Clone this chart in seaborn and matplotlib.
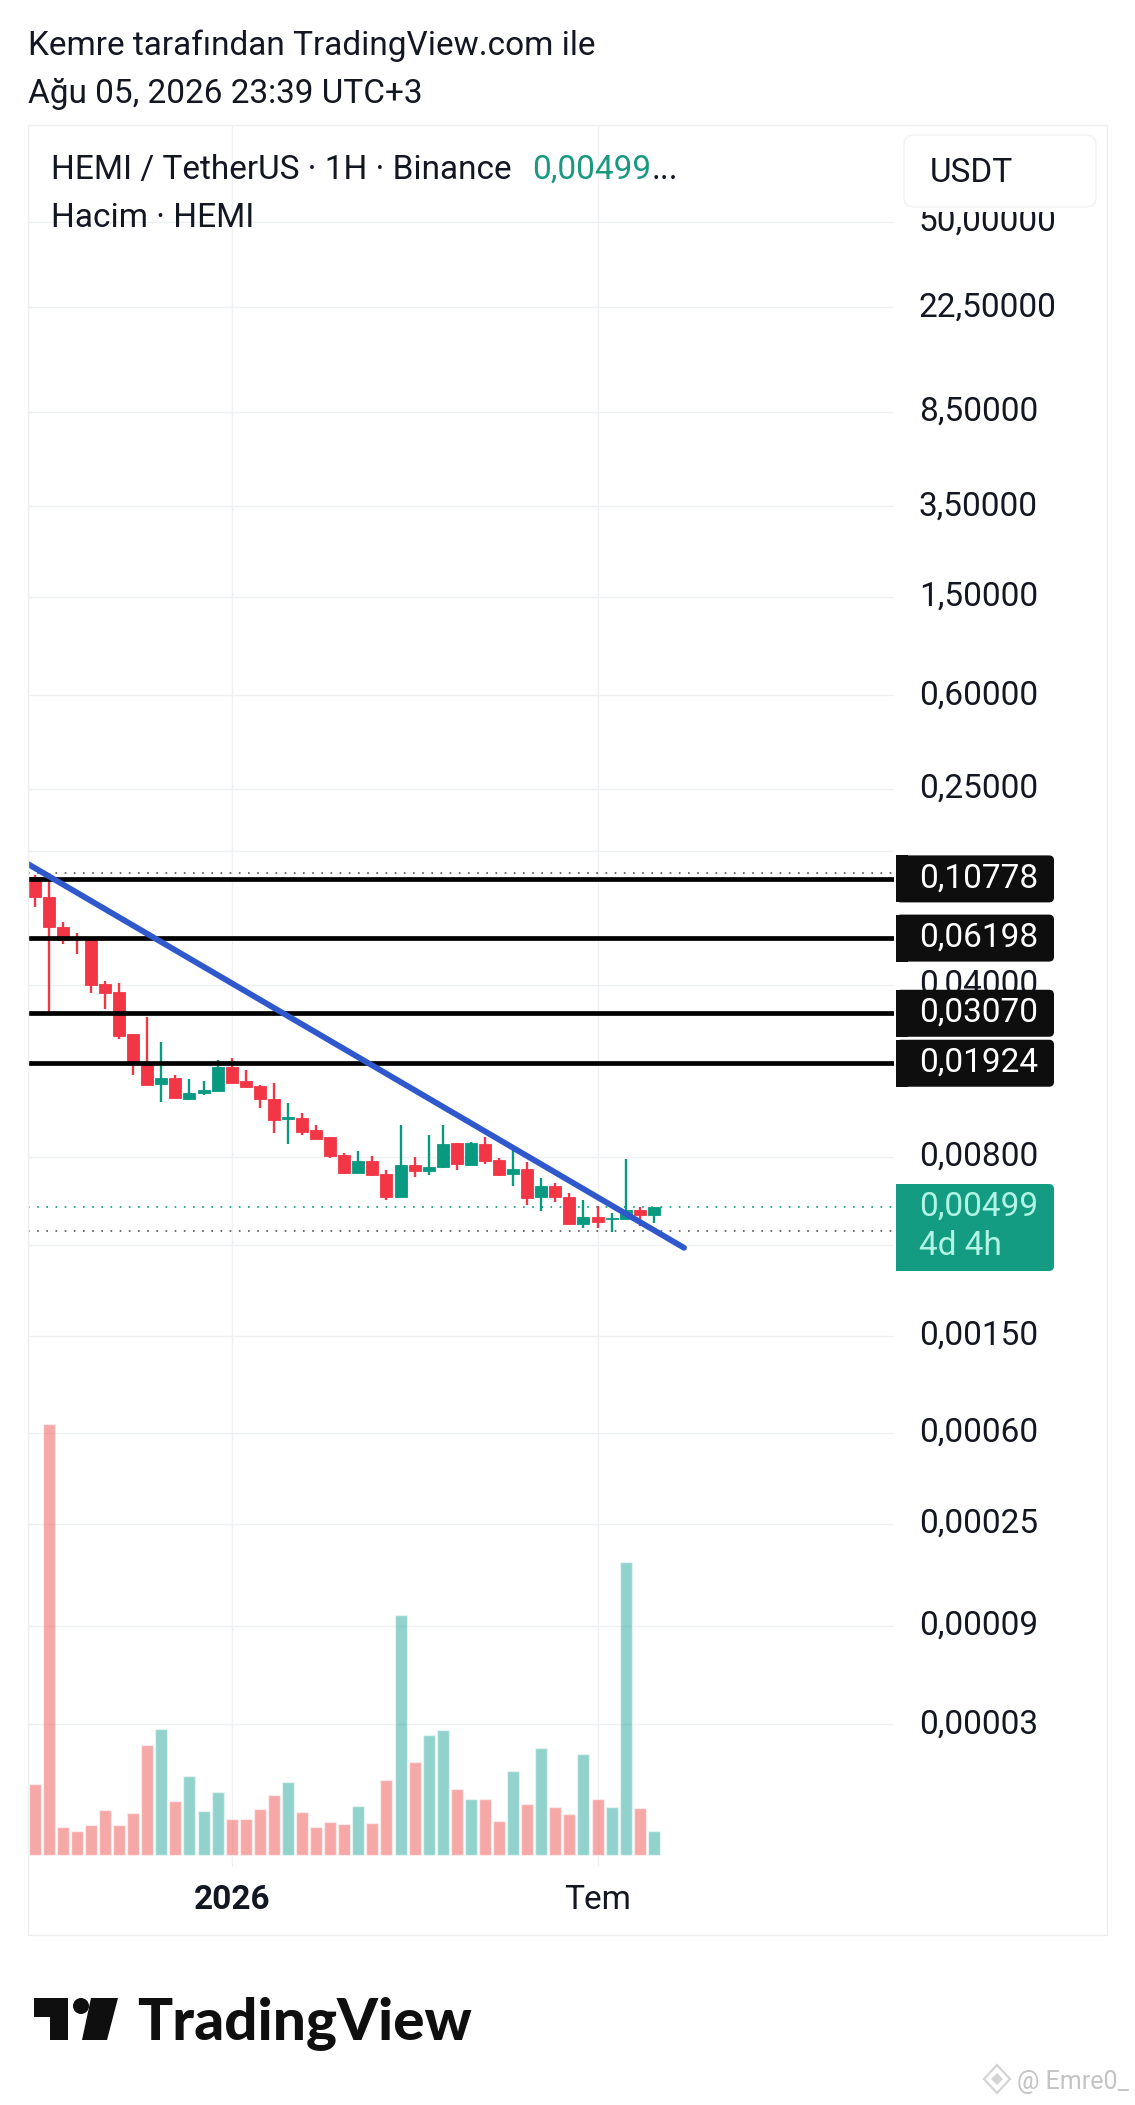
import matplotlib
matplotlib.use('Agg')
import matplotlib.pyplot as plt
from matplotlib.patches import FancyBboxPatch, Rectangle, Circle, Polygon
from matplotlib.transforms import ScaledTranslation
import numpy as np
import pandas as pd
import seaborn as sns

# candles
candle_open = [.1098, .0910, .0687, .0620, .0614, .0404, .03746, .02519, .01930, .01584,
               .01682, .01376, .01456, .01483, .01858, .01625, .01550, .01381, .01137, .01148,
               .01026, .00961, .00819, .00691, .00774, .00683, .00553, .00745, .00700, .00727,
               .00910, .00745, .00905, .00781, .00681, .00718, .00548, .00612, .00552, .00429,
               .00457, .00449, .00446, .00489, .00465]
candle_close = [.0910, .0686, .0610, .0614, .0401, .03721, .02486, .01930, .01569, .01682,
                .01389, .01461, .01493, .01858, .01599, .01540, .01376, .01130, .01159, .01016,
                .00951, .00811, .00691, .00774, .00679, .00553, .00745, .00700, .00729, .00905,
                .00750, .00910, .00774, .00677, .00718, .00545, .00610, .00548, .00429, .00457,
                .00436, .00453, .00487, .00463, .00499]
candle_high = [.1122, .1140, .0720, .0650, .0620, .0414, .0406, .02519, .02971, .02337,
               .01731, .01656, .01625, .01979, .02030, .01802, .01565, .01605, .01321, .01203,
               .01075, .00961, .00834, .00850, .00811, .00709, .01075, .00803, .00979, .01075,
               .00910, .00923, .00969, .00794, .00864, .00767, .00658, .00627, .00569, .00535,
               .00504, .00473, .00786, .00502, .00502]
candle_low = [.0826, .03114, .0584, .0535, .03721, .03203, .02417, .01719, .01565, .01338,
              .01389, .01368, .01429, .01483, .01599, .01540, .01265, .01000, .00908, .00979,
              .00943, .00796, .00685, .00691, .00672, .00535, .00553, .00661, .00674, .00723,
              .00709, .00740, .00750, .00668, .00608, .00513, .00481, .00523, .00427, .00410,
              .00413, .00398, .00443, .00419, .00433]
# volume, units unknown (no scale on the chart)
volume = [71, 431, 28, 24, 30, 45, 30, 42, 110, 126,
          54, 79, 44, 63, 36, 36, 46, 60, 73, 43,
          28, 33, 31, 49, 32, 75, 240, 93, 120, 125,
          66, 56, 56, 34, 84, 51, 107, 48, 41, 101,
          56, 48, 293, 47, 24]

level_values = [0.10778, 0.06198, 0.03070, 0.01924]
last_price = 0.00499
high_mark = 0.1139
low_mark = 0.00400
trend_x = [-0.48, 46.15]
trend_y = [0.1239, 0.00342]

price_ticks = [50, 22.5, 8.5, 3.5, 1.5, 0.6, 0.25, 0.04, 0.008, 0.0015, 0.0006, 0.00025, 0.00009, 0.00003]
blank_ticks = [0.14, 0.0035]
time_ticks = [14, 40]
time_labels = ['2026', 'Tem']

RED = '#F23645'
GREEN = '#089981'
BOX_GREEN = '#139C82'
GRID = '#EFF0F3'
INK = '#131722'
W, H = 1135, 2105
EPS = 1e-5  # the price scale is log(price + small shift), bottom ticks bunch up otherwise

sns.set_theme(style='white')
plt.rcParams['font.family'] = ['Roboto', 'DejaVu Sans']

fig = plt.figure(figsize=(W / 100, H / 100), dpi=100, facecolor='white')
ax = fig.add_axes([28 / W, 1 - 1867 / H, (894 - 28) / W, (1867 - 126) / H])
ax.set_yscale('function', functions=(lambda v: np.log10(v + EPS), lambda v: 10 ** v - EPS))

n = len(candle_open)
idx = np.arange(n)
opens = np.array(candle_open)
closes = np.array(candle_close)
colors = [GREEN if c >= o else RED for o, c in zip(opens, closes)]

for y in price_ticks + blank_ticks:
    ax.axhline(y, color=GRID, lw=1, zorder=0)
for x in time_ticks:
    ax.axvline(x, color=GRID, lw=1, zorder=0)

ax.vlines(idx, candle_low, candle_high, colors=colors, lw=1.7, zorder=3)
ax.bar(idx, np.abs(closes - opens), bottom=np.minimum(opens, closes), width=0.85,
       color=colors, linewidth=0.6, edgecolor=colors, zorder=3)

for level in level_values:
    ax.axhline(level, color='black', lw=3.4, zorder=4)
ax.axhline(high_mark, color='#555555', lw=1.2, ls=(0, (1, 4.5)), zorder=2)
ax.axhline(low_mark, color='#555555', lw=1.2, ls=(0, (1, 4.5)), zorder=2)
ax.axhline(last_price, color=GREEN, lw=1.2, ls=(0, (1, 4.5)), zorder=2)

sns.lineplot(x=trend_x, y=trend_y, color='#2F58CD', lw=4.2, ax=ax, zorder=5, estimator=None, sort=False)

# volume pane shares the x axis, its base sits 12 px over the pane bottom
ax_vol = ax.twinx()
df_vol = pd.DataFrame({'idx': idx, 'volume': volume,
                       'side': ['up' if c == GREEN else 'down' for c in colors]})
sns.barplot(data=df_vol, x='idx', y='volume', hue='side', palette={'up': '#26A69A', 'down': '#EF5350'},
            dodge=False, width=0.85, saturation=1, alpha=0.5, native_scale=True,
            legend=False, errorbar=None, ax=ax_vol)
ax_vol.set_ylim(-12, 1729)
ax_vol.set_yticks([])
ax_vol.set_ylabel('')
ax_vol.set_xlabel('')

ax.set_ylim(5.3e-7, 122.5)
ax.set_xlim(-0.476, 61.07)
ax.yaxis.tick_right()
ax.set_yticks(price_ticks + blank_ticks)
ax.set_yticklabels([f'{v:.5f}'.replace('.', ',') for v in price_ticks] + [''] * len(blank_ticks))
ax.minorticks_off()
ax.tick_params(axis='y', length=0, pad=18, labelsize=24, labelcolor=INK)
# digits sit a little above their grid line
for lab in ax.get_yticklabels():
    lab.set_transform(lab.get_transform() + ScaledTranslation(0, 3.5 / 100, fig.dpi_scale_trans))
ax.set_xticks(time_ticks)
ax.set_xticklabels(time_labels)
ax.tick_params(axis='x', length=0, pad=12, labelsize=24, labelcolor=INK)
ax.get_xticklabels()[0].set_fontweight('bold')
ax.set_ylabel('')
for a in (ax, ax_vol):
    for s in a.spines.values():
        s.set_visible(False)

# everything outside the data goes on a pixel overlay
over = fig.add_axes([0, 0, 1, 1], zorder=10)
over.set_xlim(0, W)
over.set_ylim(H, 0)
over.axis('off')


def price_px(v):
    return H - ax.transData.transform((0, v))[1]


def label_box(top, bottom, color):
    over.add_patch(FancyBboxPatch((896, top), 158, bottom - top, boxstyle='round,pad=0,rounding_size=5',
                                  fc=color, ec='none'))
    over.add_patch(Rectangle((896, top), 12, bottom - top, fc=color, ec='none'))


over.add_patch(Rectangle((28, 125), 1079, 1810, fc='none', ec='#EEEFF1', lw=1))
over.text(28, 55, 'Kemre tarafından TradingView.com ile', fontsize=24, color=INK, va='baseline')
over.text(28, 103, 'Ağu 05, 2026 23:39 UTC+3', fontsize=24, color=INK, va='baseline')
over.text(51, 179, 'HEMI / TetherUS · 1H · Binance', fontsize=24, color=INK, va='baseline')
over.text(532, 179, '0,00499', fontsize=24, color='#199980', va='baseline')
over.text(652, 179, '...', fontsize=24, color=INK, va='baseline')
over.text(51, 227, 'Hacim · HEMI', fontsize=24, color=INK, va='baseline')

over.add_patch(Rectangle((904, 135), 192, 77, fc='white', ec='none'))
over.add_patch(FancyBboxPatch((904, 135), 192, 72, boxstyle='round,pad=0,rounding_size=10',
                              fc='white', ec='#F0F1F4', lw=1))
over.text(930, 182, 'USDT', fontsize=24, color=INK, va='baseline')

for level in level_values:
    cy = price_px(level)
    label_box(cy - 23.5, cy + 23.5, '#0E0E0E')
    over.text(919, cy + 8.5, f'{level:.5f}'.replace('.', ','), fontsize=24, color='white', va='baseline')
label_box(1184, 1271, BOX_GREEN)
over.text(919, 1216, f'{last_price:.5f}'.replace('.', ','), fontsize=24, color='#B2F5E6', va='baseline')
over.text(919, 1255, '4d 4h', fontsize=24, color='#B2F5E6', va='baseline')

# logo
over.add_patch(Polygon([(34, 1998), (68, 1998), (68, 2040), (50, 2040), (50, 2017), (34, 2017)], fc='#0F0F0F', ec='none'))
over.add_patch(Circle((81, 2006), 8, fc='#0F0F0F', ec='none'))
over.add_patch(Polygon([(91, 1998), (118, 1998), (107, 2040), (82, 2040)], fc='#0F0F0F', ec='none'))
over.text(137, 2040, 'TradingView', fontsize=42, fontweight=900, family='Lato', color='#0F0F0F', va='baseline')

# watermark
over.add_patch(Polygon([(997, 2065), (1010, 2079), (997, 2093), (984, 2079)], fc='none', ec='#D4D4D4', lw=1.6))
over.add_patch(Polygon([(997, 2073), (1003, 2079), (997, 2085), (991, 2079)], fc='#D4D4D4', ec='none'))
over.text(1017, 2089, '@ Emre0_', fontsize=18, color='#C4C4C4', va='baseline')

plt.savefig('out.png', dpi=100)
